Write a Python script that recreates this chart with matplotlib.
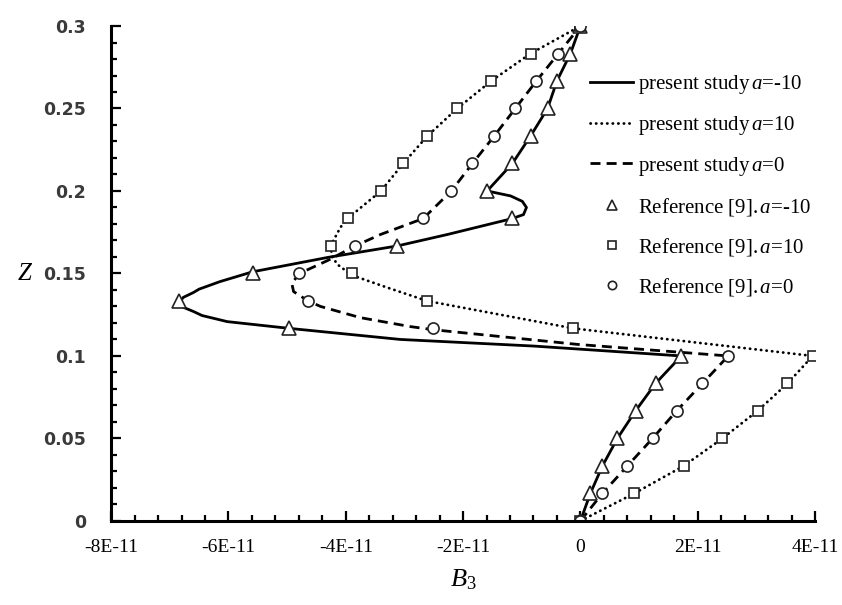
import matplotlib
matplotlib.use("Agg")
import matplotlib.pyplot as plt
from matplotlib.ticker import FixedLocator, MultipleLocator, FuncFormatter

plt.rcParams["font.family"] = ["Liberation Serif", "DejaVu Serif"]
plt.rcParams["mathtext.fontset"] = "custom"
plt.rcParams["mathtext.it"] = "Liberation Serif:italic"
plt.rcParams["mathtext.rm"] = "Liberation Serif"

E = 1e-11

# Reference [9] points, taken every 1/60 in Z
z_ref = [k / 60 for k in range(19)]
ref_m10 = [0, 0.17, 0.375, 0.63, 0.94, 1.28, 1.72, -4.96, -6.84, -5.59, -3.12,
           -1.16, -1.59, -1.16, -0.85, -0.56, -0.40, -0.17, 0]
ref_p10 = [0, 0.92, 1.76, 2.42, 3.02, 3.53, 3.96, -0.12, -2.61, -3.90, -4.26,
           -3.97, -3.40, -3.02, -2.61, -2.10, -1.52, -0.85, 0]
ref_0 = [0, 0.375, 0.80, 1.23, 1.64, 2.08, 2.52, -2.51, -4.64, -4.79, -3.84,
         -2.68, -2.20, -1.84, -1.47, -1.11, -0.75, -0.375, 0]

# present study curves
z_m10 = [0, 0.0167, 0.0333, 0.05, 0.0667, 0.0833, 0.1, 0.106, 0.110, 0.1167,
         0.1208, 0.1245, 0.127, 0.1295, 0.1325, 0.1355, 0.1384, 0.1405, 0.145,
         0.151, 0.1597, 0.1667, 0.1736, 0.1833, 0.1857, 0.19, 0.1937, 0.197,
         0.2, 0.2167, 0.2333, 0.25, 0.2667, 0.2833, 0.3]
b_m10 = [0, 0.17, 0.375, 0.63, 0.94, 1.28, 1.72, -0.8, -3.07, -4.96,
         -6.02, -6.45, -6.6, -6.77, -6.84, -6.77, -6.6, -6.5, -6.15,
         -5.59, -4.31, -3.12, -2.27, -1.16, -0.97, -0.92, -0.99, -1.19,
         -1.59, -1.16, -0.85, -0.56, -0.40, -0.17, 0]

z_p10 = [0, 0.0167, 0.0333, 0.05, 0.0667, 0.0833, 0.1, 0.1167, 0.1333, 0.1414,
         0.149, 0.1554, 0.160, 0.1667, 0.178, 0.1833, 0.2, 0.2167, 0.2333,
         0.25, 0.2667, 0.2833, 0.3]
b_p10 = [0, 0.92, 1.76, 2.42, 3.02, 3.53, 3.96, -0.12, -2.61, -3.29,
         -3.90, -4.14, -4.23, -4.26, -4.09, -3.97, -3.40, -3.02, -2.61,
         -2.10, -1.52, -0.85, 0]

z_0 = [0, 0.0167, 0.0333, 0.05, 0.0667, 0.0833, 0.1, 0.107, 0.1159, 0.1178,
       0.1232, 0.13, 0.1333, 0.139, 0.144, 0.15, 0.158, 0.1667, 0.1736, 0.1833,
       0.2, 0.2167, 0.2333, 0.25, 0.2667, 0.2833, 0.3]
b_0 = [0, 0.375, 0.80, 1.23, 1.64, 2.08, 2.52, -0.05, -2.51, -2.9,
       -3.75, -4.43, -4.64, -4.89, -4.92, -4.79, -4.3, -3.84, -3.41, -2.68,
       -2.20, -1.84, -1.47, -1.11, -0.75, -0.375, 0]

x_ticks = [-8, -6, -4, -2, 0, 2, 4]
labels = [r"present study$\,\mathit{a}$=-10", r"present study$\,\mathit{a}$=10",
          r"present study$\,\mathit{a}$=0", r"Reference [9].$\,\mathit{a}$=-10",
          r"Reference [9].$\,\mathit{a}$=10", r"Reference [9].$\,\mathit{a}$=0"]


def sci(v, pos):
    if abs(v) < 1e-15:
        return "0"
    return f"{v / E:.0f}E-11"


fig = plt.figure(figsize=(8.42, 6.05), dpi=100)
ax = fig.add_axes([0.132, 0.139, 0.836, 0.818])

ax.plot([b * E for b in b_m10], z_m10, color="black", lw=2.0, label=labels[0])
ax.plot([b * E for b in b_p10], z_p10, color="black", lw=2.0,
        linestyle=(0, (0.1, 1.9)), dash_capstyle="round", label=labels[1])
ax.plot([b * E for b in b_0], z_0, color="black", lw=2.0,
        linestyle=(0, (3.6, 2.2)), label=labels[2])

mk = dict(linestyle="none", markerfacecolor="white", markeredgecolor="#222222",
          markeredgewidth=1.2)
ax.plot([b * E for b in ref_m10], z_ref, marker="^", markersize=9.5, label=labels[3], **mk)
ax.plot([b * E for b in ref_p10], z_ref, marker="s", markersize=7.5, label=labels[4], **mk)
ax.plot([b * E for b in ref_0], z_ref, marker="o", markersize=8, label=labels[5], **mk)

ax.set_xlim(-8 * E, 4 * E)
ax.set_ylim(0, 0.3)
ax.xaxis.set_major_locator(FixedLocator([t * E for t in x_ticks]))
ax.xaxis.set_minor_locator(MultipleLocator(0.4 * E))
ax.xaxis.set_major_formatter(FuncFormatter(sci))
ax.yaxis.set_major_locator(MultipleLocator(0.05))
ax.yaxis.set_minor_locator(MultipleLocator(0.01))
ax.yaxis.set_major_formatter(FuncFormatter(lambda v, p: "0" if v == 0 else f"{v:g}"))

for s in ("top", "right"):
    ax.spines[s].set_visible(False)
for s in ("left", "bottom"):
    ax.spines[s].set_linewidth(2.2)

ax.tick_params(which="both", direction="in", width=1.6, color="black")
ax.tick_params(which="major", length=7)
ax.tick_params(which="minor", length=4.5)
ax.tick_params(axis="x", which="major", labelsize=14, pad=13)
ax.tick_params(axis="y", which="major", labelsize=12.5, pad=18, labelcolor="#3a3a3a")
for t in ax.get_yticklabels():
    t.set_fontfamily("DejaVu Sans")
    t.set_fontweight("bold")
ax.get_yticklabels()[0].set_fontfamily("Liberation Serif")
ax.get_yticklabels()[0].set_fontweight("normal")
ax.get_yticklabels()[0].set_fontsize(15)

ax.set_xlabel(r"$B_3$", fontsize=19, labelpad=8)
fig.text(0.029, 0.547, "Z", fontsize=18, style="italic", ha="center", va="center")

ax.legend(loc="upper left", bbox_to_anchor=(0.668, 0.922), frameon=False,
          fontsize=15, handlelength=2.1, handletextpad=0.2, labelspacing=0.86,
          borderaxespad=0, markerscale=0.75)

fig.savefig("out.png", dpi=100)
